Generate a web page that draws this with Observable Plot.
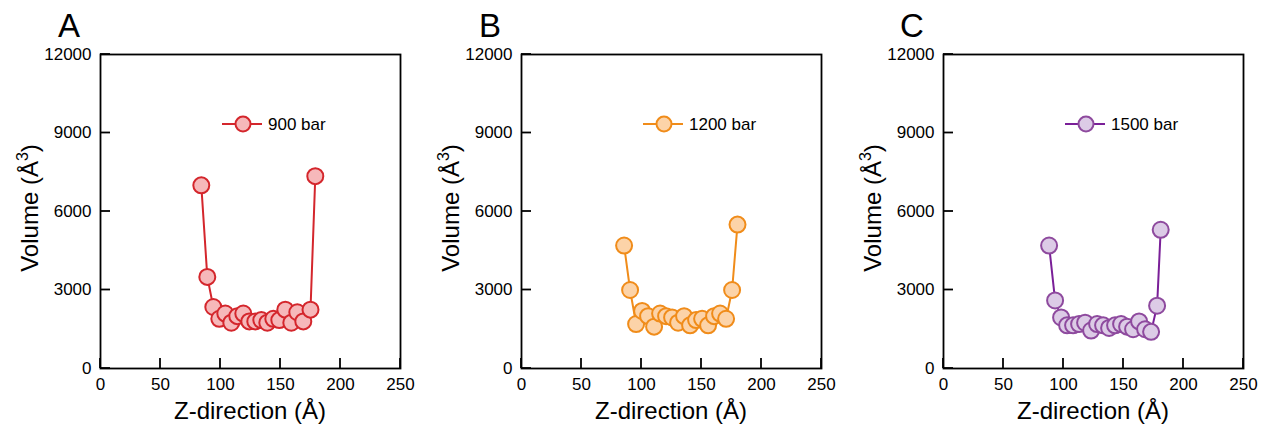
<!DOCTYPE html>
<html><head><meta charset="utf-8">
<script src="https://cdn.jsdelivr.net/npm/d3@7"></script>
<script src="https://cdn.jsdelivr.net/npm/@observablehq/plot@0.6"></script>
<style>
body{margin:0;background:#fff;}
#wrap{display:flex;width:1262px;height:425px;overflow:hidden;}
#wrap svg{display:block;flex:none;}
</style></head><body><div id="wrap"></div>
<script>
// Panel A: 900 bar
const zA = [84, 89, 94, 99, 104, 109, 114, 119, 124, 129, 134, 139, 144, 149, 154, 159, 164, 169, 175, 179];
const vA = [7000, 3500, 2350, 1900, 2100, 1750, 2000, 2100, 1800, 1800, 1850, 1750, 1900, 1850, 2250, 1750, 2150, 1800, 2250, 7350];
// Panel B: 1200 bar
const zB = [85.5, 90.5, 95.5, 100.5, 105.5, 110.5, 115.5, 120.5, 125.5, 130.5, 135.5, 140.5, 145.5, 150.5, 155.5, 160.5, 165.5, 170.5, 175.5, 180];
const vB = [4700, 3000, 1700, 2200, 2000, 1600, 2100, 2000, 1950, 1750, 2000, 1650, 1850, 1900, 1650, 2000, 2100, 1900, 3000, 5500];
// Panel C: 1500 bar
const zC = [88, 93, 98, 103, 108, 113, 118, 123, 128, 133, 138, 143, 148, 153, 158, 163, 168, 173, 178, 181];
const vC = [4700, 2600, 1950, 1650, 1650, 1700, 1750, 1450, 1700, 1650, 1550, 1650, 1700, 1600, 1500, 1800, 1500, 1400, 2400, 5300];

const letters = ["A", "B", "C"];
const seriesNames = ["900 bar", "1200 bar", "1500 bar"];
const xTicks = [0, 50, 100, 150, 200, 250];
const yTicks = [0, 3000, 6000, 9000, 12000];
const xLabel = "Z-direction (Å)";
const yLabelMain = "Volume (Å";
const yLabelSup = "3";
const yLabelEnd = ")";

const styles = [
  {stroke: "#d4262c", line: "#d4262c", fill: "#f6b8ba"},
  {stroke: "#f08c1a", line: "#f08c1a", fill: "#fcd3a8"},
  {stroke: "#8e4a9e", line: "#7a1f98", fill: "#dccbe6"}
];
const zs = [zA, zB, zC], vs = [vA, vB, vC];
const widths = [421, 421, 420];
const mLeft = [100, 100, 101];
const font = "'Liberation Sans', Arial, sans-serif";
const fmt = d => String(d);

const wrap = document.getElementById("wrap");
for (let p = 0; p < 3; p++) {
  const data = zs[p].map((z, i) => ({z, v: vs[p][i]}));
  const st = styles[p];
  const W = widths[p], ml = mLeft[p], mr = W - ml - 300;
  const mt = 54, mb = 57, H = 425;
  const chart = Plot.plot({
    width: W, height: H,
    marginLeft: ml, marginRight: mr, marginTop: mt, marginBottom: mb,
    style: {fontFamily: font, fontSize: "17px", background: "white", color: "#000"},
    x: {domain: [0, 250]},
    y: {domain: [0, 12000]},
    marks: [
      Plot.axisX(xTicks, {tickSize: 0, tickPadding: 9, label: null, fontSize: 17, tickFormat: fmt}),
      Plot.axisY(yTicks, {tickSize: 0, tickPadding: 9, label: null, fontSize: 17, tickFormat: fmt}),
      Plot.frame({stroke: "#000", strokeWidth: 1.8}),
      Plot.line(data, {x: "z", y: "v", stroke: st.line, strokeWidth: 2}),
      Plot.dot(data, {x: "z", y: "v", r: 8, fill: st.fill, stroke: st.stroke, strokeWidth: 2, fillOpacity: 1})
    ]
  });
  const svg = d3.select(chart);
  const sx = chart.scale("x"), sy = chart.scale("y");
  // inward tick marks
  const tg = svg.append("g").attr("stroke", "#000").attr("stroke-width", 1.8);
  xTicks.forEach(t => {
    const px = sx.apply(t);
    tg.append("line").attr("x1", px).attr("x2", px).attr("y1", H - mb).attr("y2", H - mb - 10);
  });
  yTicks.forEach(t => {
    const py = sy.apply(t);
    tg.append("line").attr("x1", ml).attr("x2", ml + 10).attr("y1", py).attr("y2", py);
  });
  // panel letter
  svg.append("text").attr("x", ml - 31).attr("y", 37).attr("text-anchor", "middle")
    .attr("font-family", font).attr("font-size", 33).attr("fill", "#000").text(letters[p]);
  // x axis title
  svg.append("text").attr("x", ml + 150).attr("y", 419).attr("text-anchor", "middle")
    .attr("font-family", font).attr("font-size", 24).attr("fill", "#000").text(xLabel);
  // y axis title
  const yt = svg.append("text").attr("transform", `translate(${ml - 62},208) rotate(-90)`).attr("text-anchor", "middle")
    .attr("font-family", font).attr("font-size", 24).attr("fill", "#000");
  yt.append("tspan").text(yLabelMain);
  yt.append("tspan").attr("dy", -10).attr("font-size", 16).text(yLabelSup);
  yt.append("tspan").attr("dy", 10).text(yLabelEnd);
  // legend
  const lg = svg.append("g").attr("transform", `translate(${ml + 143},124)`);
  lg.append("line").attr("x1", -21).attr("x2", 19).attr("y1", 0).attr("y2", 0)
    .attr("stroke", st.line).attr("stroke-width", 2);
  lg.append("circle").attr("r", 7.5).attr("fill", st.fill).attr("stroke", st.stroke).attr("stroke-width", 2);
  lg.append("text").attr("x", 25).attr("y", 6).attr("text-anchor", "start").attr("font-family", font).attr("font-size", 17)
    .attr("fill", "#000").text(seriesNames[p]);
  wrap.appendChild(chart);
}
</script></body></html>
